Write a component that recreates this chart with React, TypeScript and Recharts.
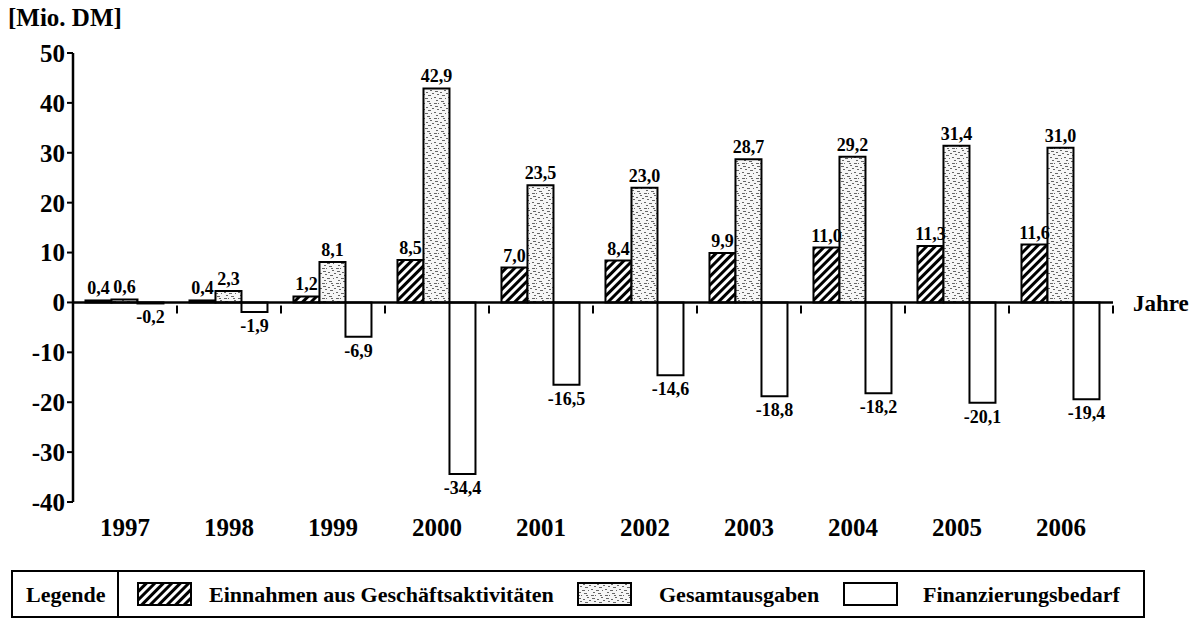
import { BarChart, Bar, XAxis, YAxis, ReferenceLine, LabelList } from 'recharts'

const years = ['1997', '1998', '1999', '2000', '2001', '2002', '2003', '2004', '2005', '2006']
const einnahmen = [0.4, 0.4, 1.2, 8.5, 7.0, 8.4, 9.9, 11.0, 11.3, 11.6]
const ausgaben = [0.6, 2.3, 8.1, 42.9, 23.5, 23.0, 28.7, 29.2, 31.4, 31.0]
const bedarf = [-0.2, -1.9, -6.9, -34.4, -16.5, -14.6, -18.8, -18.2, -20.1, -19.4]
const yTicks = [-40, -30, -20, -10, 0, 10, 20, 30, 40, 50]

const FONT = '"Liberation Serif", "Times New Roman", serif'

const data = years.map((y, i) => ({
  year: y,
  einnahmen: einnahmen[i],
  ausgaben: ausgaben[i],
  bedarf: bedarf[i],
}))

function fmt(v: number): string {
  return v.toFixed(1).replace('.', ',')
}

// speckle marks for the grey stipple fill
const speckles = [
  [1, 1, 3], [6, 2, 2], [10, 0, 2], [3, 4, 2], [8, 5, 3], [0, 7, 2],
  [5, 8, 3], [11, 8, 1], [2, 10, 2], [7, 11, 3], [12, 3, 2], [9, 13, 2],
  [0, 13, 3], [4, 13, 1],
]

function Patterns() {
  return (
    <defs>
      <pattern id="hatch" width="6" height="6" patternUnits="userSpaceOnUse" patternTransform="rotate(45)">
        <rect width="6" height="6" fill="#fff" />
        <rect width="3" height="6" fill="#000" />
      </pattern>
      <pattern id="stipple" width="14" height="15" patternUnits="userSpaceOnUse">
        <rect width="14" height="15" fill="#f6f6f6" />
        {speckles.map(([x, y, w], i) => (
          <rect key={i} x={x} y={y} width={w} height={1} fill="#666" />
        ))}
      </pattern>
    </defs>
  )
}

function ValueLabel(props: any) {
  const { x, y, width, height, value } = props
  const top = Math.min(y, y + height)
  const bottom = Math.max(y, y + height)
  const cx = x + width / 2
  const neg = value < 0
  return (
    <text
      x={cx}
      y={neg ? bottom + 20 : top - 6}
      textAnchor="middle"
      fontFamily={FONT}
      fontWeight="bold"
      fontSize={18}
      fill="#000"
    >
      {fmt(value)}
    </text>
  )
}

function ZeroAxis(props: any) {
  const { x1, y1, x2 } = props
  const step = (x2 - x1) / years.length
  return (
    <g>
      <line x1={x1} y1={y1} x2={x2} y2={y1} stroke="#000" strokeWidth={2.5} />
      {years.map((_, i) => (
        <line
          key={i}
          x1={x1 + step * (i + 1)}
          x2={x1 + step * (i + 1)}
          y1={y1 + 3}
          y2={y1 + 11}
          stroke="#000"
          strokeWidth={2}
        />
      ))}
    </g>
  )
}

function Swatch({ fill }: { fill: string }) {
  return (
    <svg width={55} height={24} style={{ display: 'block' }}>
      <rect x={1} y={1} width={53} height={22} fill={fill} stroke="#000" strokeWidth={2} />
    </svg>
  )
}

const legendText: React.CSSProperties = {
  position: 'absolute',
  top: 10,
  fontSize: 22,
  fontWeight: 'bold',
  lineHeight: '26px',
  whiteSpace: 'nowrap',
}

export default function App() {
  return (
    <div
      style={{
        position: 'absolute',
        left: 0,
        top: 0,
        width: 1202,
        height: 621,
        background: '#fff',
        fontFamily: FONT,
        color: '#000',
      }}
    >
      <div style={{ position: 'absolute', left: 8, top: 5, fontSize: 25, fontWeight: 'bold', lineHeight: 1 }}>
        [Mio. DM]
      </div>
      <BarChart
        width={1202}
        height={560}
        data={data}
        margin={{ top: 53, right: 89, left: 13, bottom: 18 }}
        barCategoryGap="12%"
        barGap={0}
      >
        <Patterns />
        <XAxis
          dataKey="year"
          axisLine={false}
          tickLine={false}
          height={40}
          tickMargin={10}
          tick={{ fill: '#000', fontSize: 25, fontWeight: 'bold', fontFamily: FONT }}
        />
        <YAxis
          domain={[-40, 50]}
          ticks={yTicks}
          width={60}
          interval={0}
          axisLine={{ stroke: '#000', strokeWidth: 2.5 }}
          tickLine={{ stroke: '#000', strokeWidth: 2 }}
          tickSize={6}
          tick={{ fill: '#000', fontSize: 25, fontWeight: 'bold', fontFamily: FONT }}
        />
        <Bar dataKey="einnahmen" fill="url(#hatch)" stroke="#000" strokeWidth={2} isAnimationActive={false}>
          <LabelList dataKey="einnahmen" content={ValueLabel} />
        </Bar>
        <Bar dataKey="ausgaben" fill="url(#stipple)" stroke="#000" strokeWidth={2} isAnimationActive={false}>
          <LabelList dataKey="ausgaben" content={ValueLabel} />
        </Bar>
        <Bar dataKey="bedarf" fill="#fff" stroke="#000" strokeWidth={2} isAnimationActive={false}>
          <LabelList dataKey="bedarf" content={ValueLabel} />
        </Bar>
        <ReferenceLine
          y={0}
          shape={ZeroAxis}
          label={{
            value: 'Jahre',
            position: 'right',
            offset: 20,
            fill: '#000',
            fontSize: 23,
            fontWeight: 'bold',
            fontFamily: FONT,
          }}
        />
      </BarChart>
      <div
        style={{
          position: 'absolute',
          left: 11,
          top: 570,
          width: 1134,
          height: 48,
          border: '2px solid #000',
          boxSizing: 'border-box',
        }}
      >
        <div
          style={{
            position: 'absolute',
            left: 0,
            top: 0,
            width: 106,
            height: 44,
            borderRight: '2px solid #000',
            boxSizing: 'border-box',
          }}
        >
          <span style={{ ...legendText, left: 13 }}>Legende</span>
        </div>
        <div style={{ position: 'absolute', left: 124, top: 10 }}>
          <svg width={55} height={24} style={{ display: 'block' }}>
            <Patterns />
            <rect x={1} y={1} width={53} height={22} fill="url(#hatch)" stroke="#000" strokeWidth={2} />
          </svg>
        </div>
        <span style={{ ...legendText, left: 196 }}>Einnahmen aus Geschäftsaktivitäten</span>
        <div style={{ position: 'absolute', left: 564, top: 10 }}>
          <Swatch fill="url(#stipple)" />
        </div>
        <span style={{ ...legendText, left: 646 }}>Gesamtausgaben</span>
        <div style={{ position: 'absolute', left: 830, top: 10 }}>
          <Swatch fill="#fff" />
        </div>
        <span style={{ ...legendText, left: 910 }}>Finanzierungsbedarf</span>
      </div>
    </div>
  )
}
